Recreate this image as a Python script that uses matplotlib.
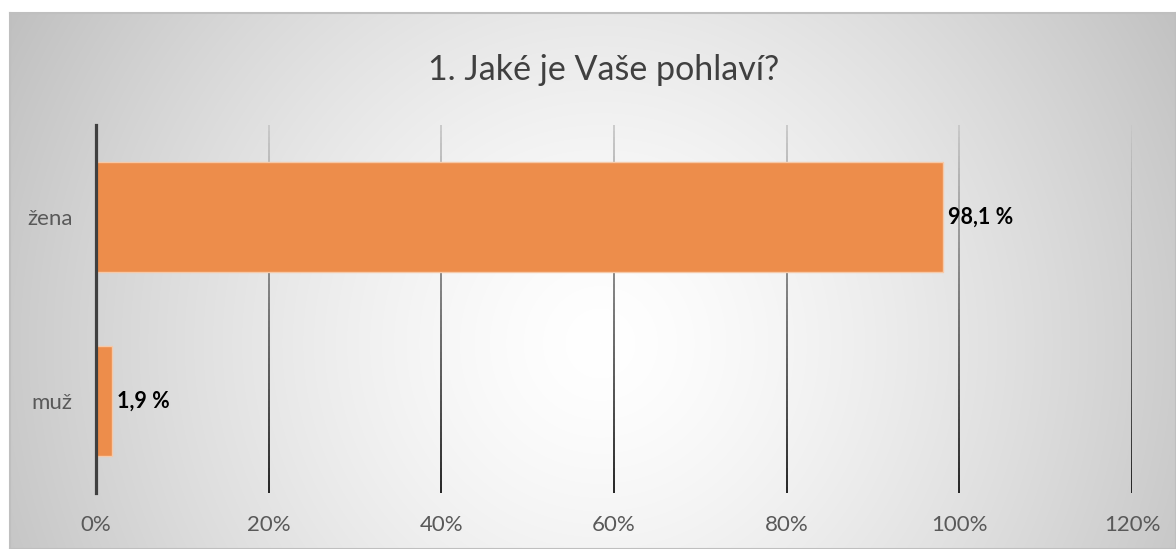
import numpy as np
import matplotlib.pyplot as plt
from matplotlib.collections import LineCollection

plt.rcParams['font.family'] = ['Lato', 'DejaVu Sans']

categories = ['muž', 'žena']
values = [1.9, 98.1]
value_labels = ['1,9 %', '98,1 %']
x_ticks = [0, 20, 40, 60, 80, 100, 120]
title = '1. Jaké je Vaše pohlaví?'

W, H = 1176, 549
fig = plt.figure(figsize=(W / 100, H / 100), dpi=100)
fig.patch.set_facecolor('white')

# chart frame with radial gradient background
bg = fig.add_axes([10 / W, 0, 1 - 10 / W, 1 - 13 / H])
yy, xx = np.mgrid[0:536, 0:1166]
d = np.sqrt((xx - 590) ** 2 + (yy - 330) ** 2) / 680.0
shade = 1 - 0.25 * np.clip(d, 0, 1) ** 1.4
bg.imshow(np.dstack([shade] * 3), aspect='auto', extent=[0, 1, 0, 1], origin='upper')
bg.set_xticks([])
bg.set_yticks([])
for s in bg.spines.values():
    s.set_color('#bfbfbf')
    s.set_linewidth(1.5)

ax = fig.add_axes([96 / W, 1 - 493 / H, (1132 - 96) / W, (493 - 125) / H])
ax.patch.set_alpha(0)
ax.set_xlim(0, 120)
ax.set_ylim(-0.5, 1.5)

# gradient gridlines (light at top, dark at bottom)
n = 60
ys = np.linspace(1.5, -0.5, n + 1)
for t in x_ticks[1:]:
    segs = [[(t, ys[i]), (t, ys[i + 1])] for i in range(n)]
    g = np.linspace(0.78, 0.08, n)
    cols = [(c, c, c) for c in g]
    ax.add_collection(LineCollection(segs, colors=cols, linewidths=1.3, zorder=1))

ax.barh(categories, values, height=0.6, color='#ED8D4B', edgecolor='#F6C9A8',
        linewidth=1.0, zorder=2)
ax.axvline(0, color='#404040', linewidth=2.3, zorder=3, clip_on=False)

for i, (v, lab) in enumerate(zip(values, value_labels)):
    ax.text(v + 0.55, i, lab, va='center', ha='left', fontsize=15.5,
            fontweight='bold', color='black', zorder=4)

ax.set_xticks(x_ticks)
ax.set_xticklabels([f'{t}%' for t in x_ticks])
ax.tick_params(axis='both', length=0, labelsize=16, colors='#595959')
ax.tick_params(axis='x', pad=16)
ax.tick_params(axis='y', pad=17)
for s in ax.spines.values():
    s.set_visible(False)

fig.text(604 / W, 1 - 70 / H, title, ha='center', va='center', fontsize=24.5,
         color='#404040')

fig.savefig('out.png', dpi=100)
